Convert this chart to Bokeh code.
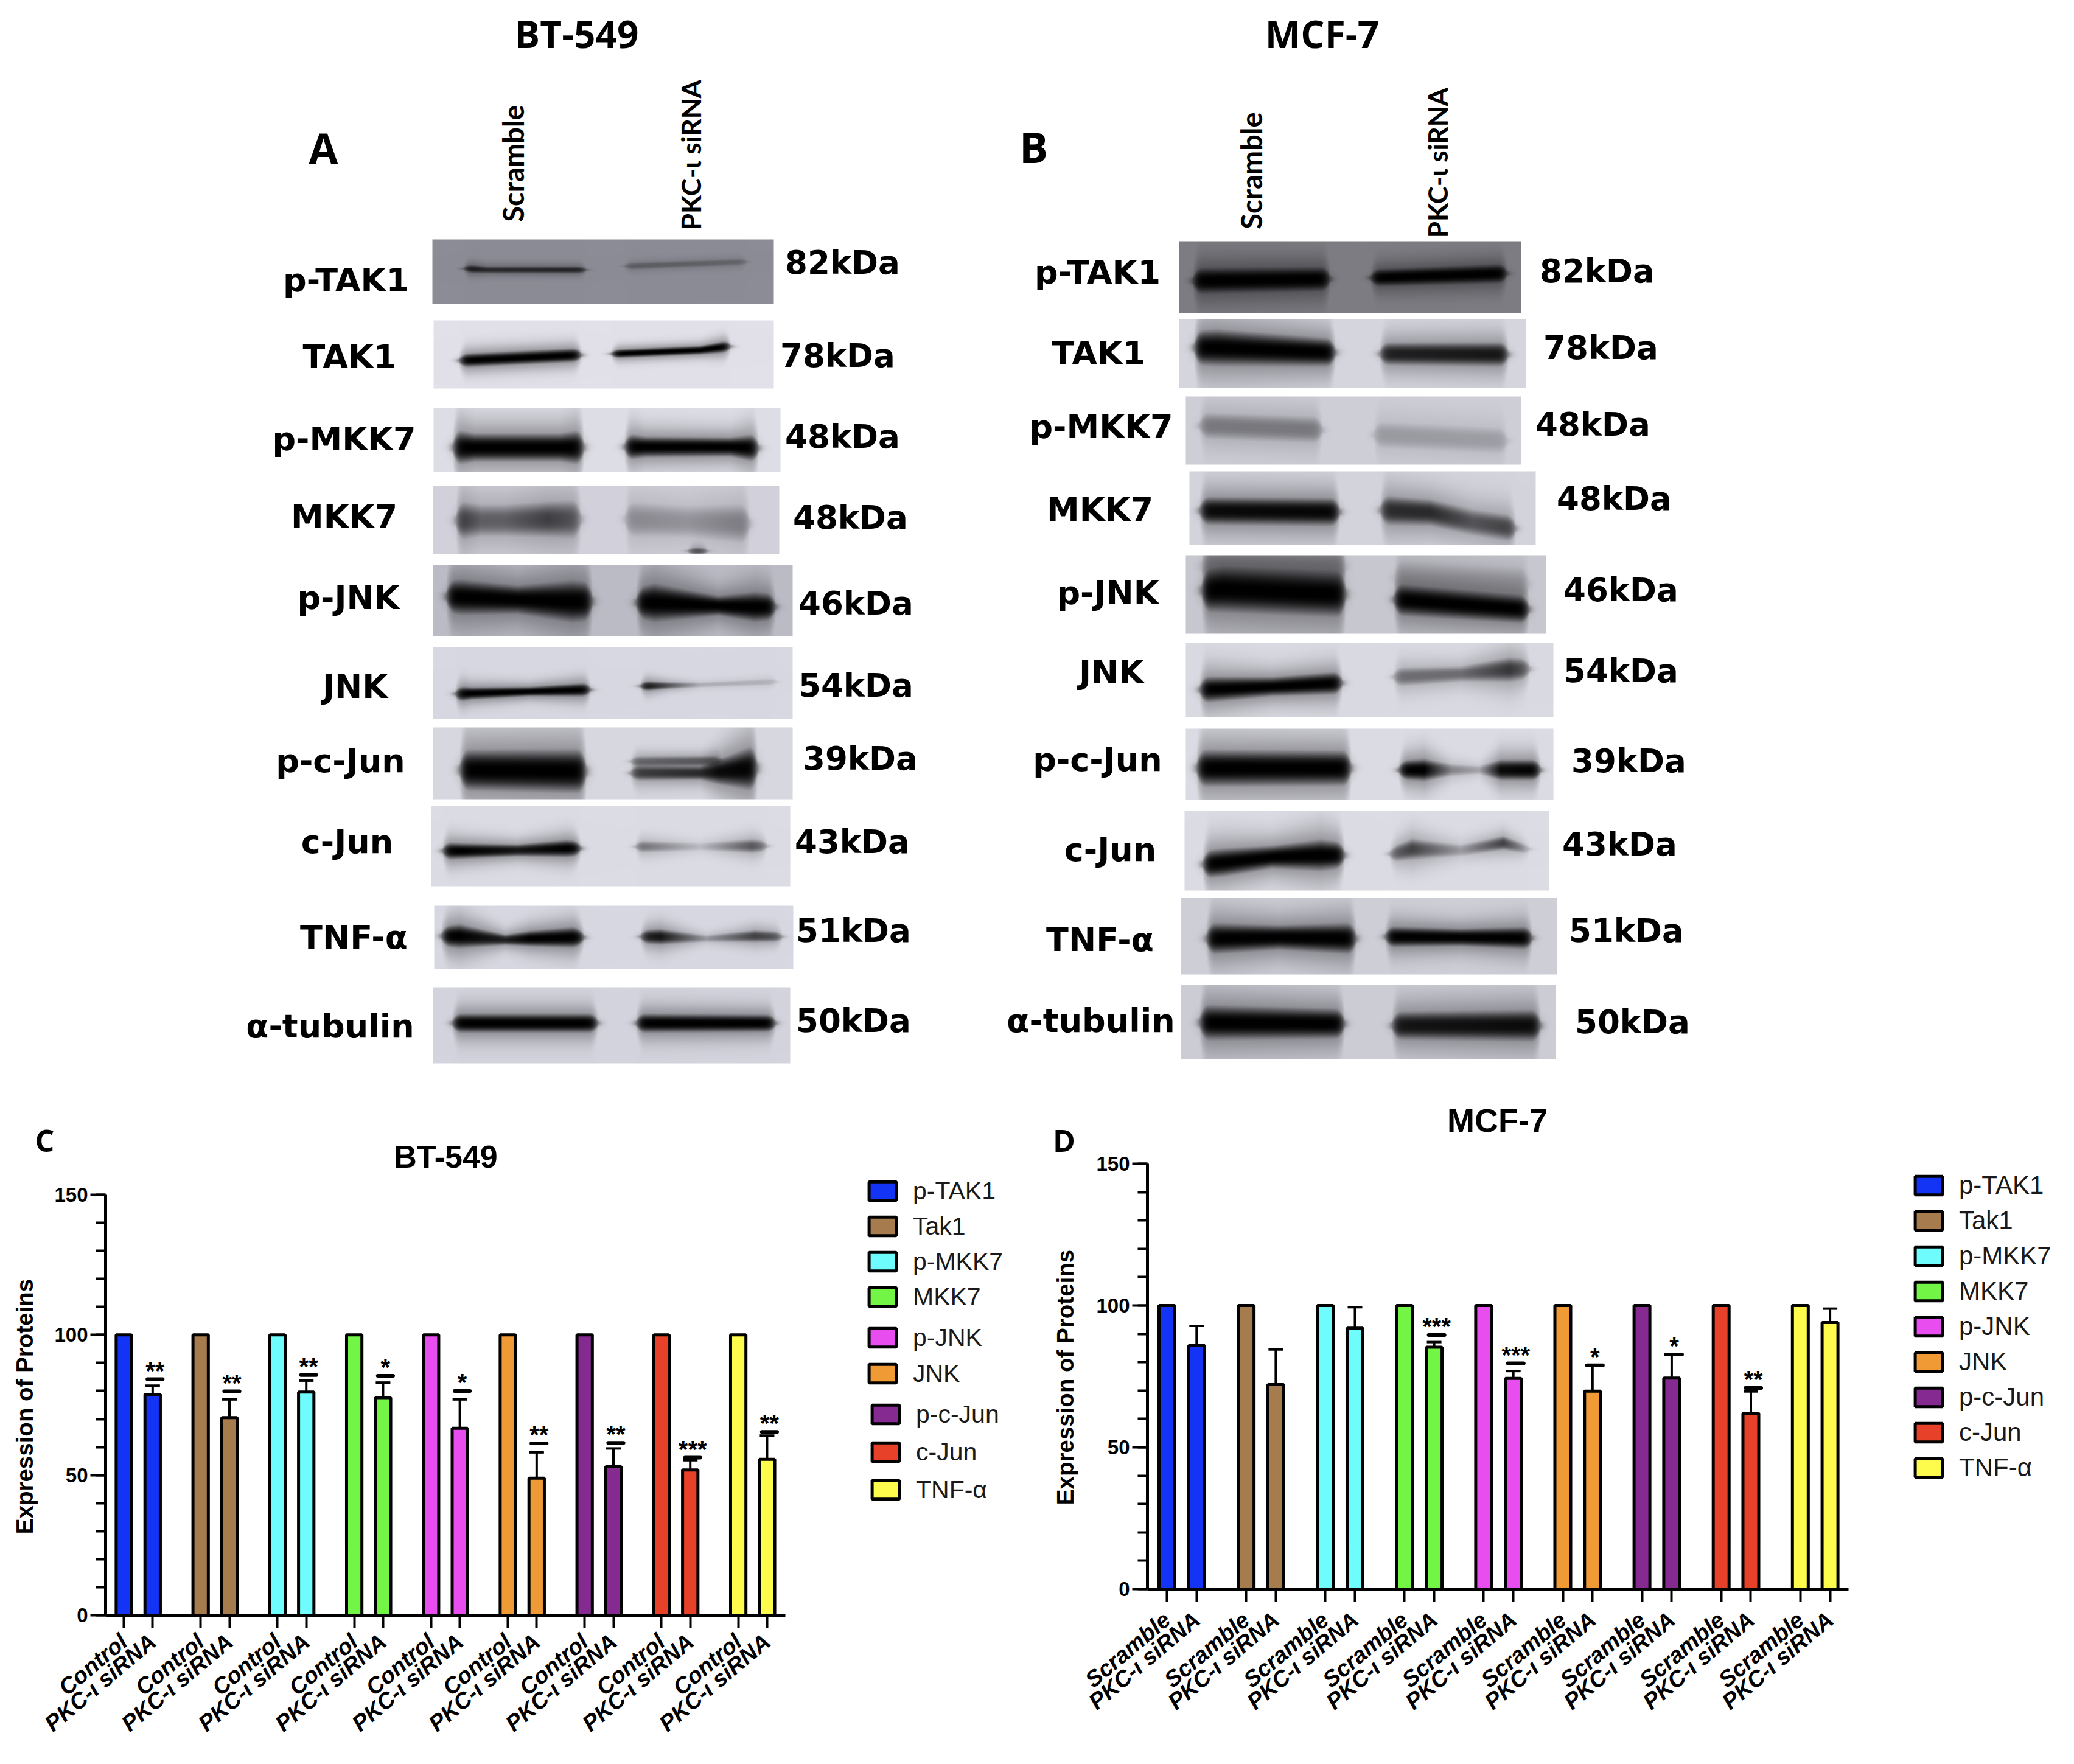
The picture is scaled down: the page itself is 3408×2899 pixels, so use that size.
import numpy as np
from bokeh.plotting import figure
from bokeh.layouts import column, row
from bokeh.embed import file_html
from bokeh.resources import INLINE
from bokeh.core.properties import value
from bokeh.models import (Range1d, FixedTicker, Legend, LegendItem, Whisker, TeeHead,
                          ColumnDataSource)

# ---------- bar chart data ----------
proteins = ["p-TAK1", "Tak1", "p-MKK7", "MKK7", "p-JNK", "JNK", "p-c-Jun", "c-Jun", "TNF-α"]
bar_colors = ["#1434f5", "#a67c4e", "#6ffcfc", "#72f545", "#e84df0", "#f09a36", "#852a90", "#e8412a", "#fdfb4b"]

c_ctrl = [100, 100, 100, 100, 100, 100, 100, 100, 100]
c_sirna = [78.8, 70.5, 79.6, 77.6, 66.7, 48.9, 53.0, 51.8, 55.6]
c_err = [81.9, 77.0, 83.7, 83.0, 77.0, 58.1, 59.5, 55.3, 64.1]
c_sig = [84.2, 79.9, 85.7, 85.4, 80.0, 61.3, 61.5, 56.2, 65.4]
c_stars = ["**", "**", "**", "*", "*", "**", "**", "***", "**"]
c_ticks = ["Control", "PKC-ι siRNA"]

d_ctrl = [100, 100, 100, 100, 100, 100, 100, 100, 100]
d_sirna = [85.9, 72.1, 92.0, 85.3, 74.3, 69.8, 74.4, 62.0, 94.0]
d_err = [92.8, 84.5, 99.4, 87.1, 76.9, 78.9, 82.7, 69.7, 98.9]
d_sig = [None, None, None, 89.6, 79.6, 78.9, 82.7, 70.9, None]
d_stars = ["", "", "", "***", "***", "*", "*", "**", ""]
d_ticks = ["Scramble", "PKC-ι siRNA"]

# ---------- blot panel texts ----------
blot_labels = ["p-TAK1", "TAK1", "p-MKK7", "MKK7", "p-JNK", "JNK", "p-c-Jun", "c-Jun", "TNF-α", "α-tubulin"]
a_kda = ["82kDa", "78kDa", "48kDa", "48kDa", "46kDa", "54kDa", "39kDa", "43kDa", "51kDa", "50kDa"]
b_kda = ["82kDa", "78kDa", "48kDa", "48kDa", "46kDa", "54kDa", "39kDa", "43kDa", "51kDa", "50kDa"]

a_label_pos = [(568,460),(574,586),(565,721),(565,849),(572,982),(583,1128),(559,1250),(570,1383),(581,1540),(542,1686)]
a_kda_pos = [(1384,431),(1376,584),(1384,717),(1397,850),(1406,991),(1406,1126),(1413,1246),(1400,1383),(1402,1529),(1402,1677)]
b_label_pos = [(1803,447),(1805,580),(1809,701),(1807,837),(1820,974),(1826,1104),(1803,1248),(1824,1396),(1807,1544),(1792,1677)]
b_kda_pos = [(2624,445),(2630,571),(2617,697),(2652,819),(2663,969),(2663,1102),(2676,1250),(2661,1387),(2672,1529),(2682,1679)]

# ---------- blot appearance: box (x0,x1,y0,y1), background grey, bands as (x, y, half thickness, darkness) ----------
a_blots = [
 ((710,1271,393,499),(140,140,150),[[(767,441,5,.85),(800,443,4,.7),(958,443,4,.75)],[(1031,437,4,.35),(1222,430,4,.3)]]),
 ((712,1271,526,638),(226,225,233),[[(759,592,8,1),(950,583,8,1)],[(1009,581,5,1),(1150,575,5,1),(1195,569,7,1)]]),
 ((712,1282,670,775),(222,222,230),[[(749,735,20,1),(780,735,16,1),(920,735,16,1),(954,735,20,1)],[(1031,734,15,1),(1060,734,12,1),(1200,734,11,1),(1241,736,16,1)]]),
 ((711,1280,798,910),(211,210,220),[[(754,855,22,.75),(790,855,18,.55),(830,855,18,.55),(900,853,20,.7),(949,853,22,.6)],[(1032,853,20,.35),(1130,857,18,.3),(1226,860,22,.42)],[(1135,905,4,.6),(1157,905,4,.6)]]),
 ((711,1302,928,1045),(188,188,198),[[(738,980,19,1),(760,981,20,1),(850,985,16,1),(940,988,24,1),(968,988,22,1)],[(1050,990,18,1),(1075,990,22,1),(1180,995,11,1),(1240,997,17,1),(1269,997,15,1)]]),
 ((711,1302,1063,1181),(216,216,226),[[(753,1140,9,1),(775,1139,7,1),(870,1136,5.5,1),(965,1133,8,1)],[(1057,1127,6,.95),(1100,1126,4,.6),(1150,1125,3,.2),(1271,1120,4,.18)]]),
 ((711,1302,1195,1313),(216,216,224),[[(760,1265,23,1),(958,1267,25,1)],[(1041,1270,9,.7),(1150,1270,8,.8),(1180,1268,14,.95),(1239,1262,26,1)],[(1041,1251,6,.45),(1180,1250,6,.55)]]),
 ((708,1298,1324,1456),(220,220,228),[[(732,1398,10,1),(760,1398,9,1),(850,1397,7,.9),(930,1394,10,1),(949,1394,9,1)],[(1049,1391,7,.5),(1150,1391,5,.15),(1235,1390,8,.6),(1255,1390,7,.5)]]),
 ((713,1303,1488,1592),(216,216,226),[[(730,1538,12,1),(755,1538,14,1),(830,1544,6,.85),(870,1542,9,1),(940,1540,12,1),(954,1540,10,1)],[(1057,1539,8,.85),(1085,1539,9,.9),(1160,1542,4,.3),(1240,1538,7,.7),(1280,1539,6,.6)]]),
 ((711,1298,1622,1747),(212,212,222),[[(748,1681,11,1),(977,1681,11,1)],[(1050,1681,11,1),(1269,1681,10,1)]]),
]
b_blots = [
 ((1937,2499,396,514),(125,125,131),[[(1965,461,15,1),(2180,458,14,1)],[(2257,456,10,1),(2471,449,11,1)]]),
 ((1937,2507,524,637),(214,214,223),[[(1967,571,20,1),(2000,571,21,1),(2189,579,16,1)],[(2272,581,13,.85),(2473,582,14,.9)]]),
 ((1948,2499,651,763),(207,207,216),[[(1976,699,15,.42),(2167,706,15,.42)],[(2262,714,15,.26),(2471,724,15,.24)]]),
 ((1954,2523,774,895),(212,212,221),[[(1976,839,16,.95),(2196,841,16,.97)],[(2273,838,17,.8),(2350,842,15,.8),(2420,858,15,.6),(2485,868,15,.7)]]),
 ((1948,2540,912,1041),(200,200,208),[[(1979,930,22,.3),(2206,930,22,.3)],[(2295,950,20,.2),(2507,960,20,.2)],[(1979,970,24,1),(2010,968,26,1),(2206,976,26,1)],[(2295,985,18,1),(2507,1001,16,1)]]),
 ((1948,2552,1056,1178),(218,218,226),[[(1976,1133,15,1),(2090,1128,11,1),(2200,1122,13,1)],[(2295,1112,11,.5),(2400,1107,9,.5),(2480,1100,14,.75),(2508,1099,12,.6)]]),
 ((1948,2552,1197,1314),(220,220,228),[[(1971,1262,21,1),(2215,1262,20,1)],[(2303,1265,11,1),(2340,1265,13,1),(2385,1265,7,.4),(2430,1265,5,.25),(2465,1265,12,.95),(2526,1265,12,1)]]),
 ((1946,2545,1332,1463),(220,220,228),[[(1981,1420,16,1),(2010,1417,16,1),(2090,1408,13,1),(2170,1405,18,1),(2204,1405,15,1)],[(2288,1403,9,.55),(2320,1395,12,.7),(2400,1397,7,.3),(2470,1385,8,.7),(2508,1395,6,.3)]]),
 ((1940,2558,1475,1601),(207,207,216),[[(1987,1542,18,1),(2100,1540,14,1),(2223,1542,18,1)],[(2281,1539,12,1),(2400,1540,10,1),(2512,1541,13,1)]]),
 ((1940,2556,1618,1740),(205,205,214),[[(1976,1680,20,1),(2204,1682,17,1)],[(2292,1685,16,.9),(2526,1685,18,.95)]]),
]

# page geometry: figures are laid out from the picture's own origin
PX0, PX1, PY0, PY_SPLIT, PY_END = 0, 3400, 0, 1780, 2891
LINE = "#000000"


def blot_image(box, bg, bands):
    x0, x1, y0, y1 = box
    xs = np.arange(x0, x1) + .5
    ys = np.arange(y0, y1) + .5
    T = np.ones((len(ys), len(xs)))
    for b in bands:
        p = np.array(b, dtype=float)
        yc = np.interp(xs, p[:, 0], p[:, 1])
        th = np.interp(xs, p[:, 0], p[:, 2]) * 1.4
        d = np.interp(xs, p[:, 0], p[:, 3])
        edge = np.clip(np.minimum(xs - p[0, 0] + 6, p[-1, 0] + 6 - xs), 0, None) / 16
        th = th * np.sqrt(np.clip(1 - (1 - np.clip(edge, 0, 1)) ** 2, .1, 1))
        env = 1 / (1 + np.exp(-(xs - p[0, 0] + 4) / 4)) / (1 + np.exp((xs - p[-1, 0] - 4) / 4))
        u = np.abs(ys[:, None] - yc[None, :]) / th[None, :]
        core = np.exp(-u ** 2.6)
        halo = np.exp(-(u / 1.9) ** 2) * .4
        T *= 1 - np.clip(d * env * np.maximum(core, halo), 0, 1)
    T = T[::-1]
    r, g, b_ = [np.uint32(np.clip(c * T, 0, 255)) for c in bg]
    rgba = (255 << 24) | (b_ << 16) | (g << 8) | r
    return rgba.astype(np.uint32)


def strip(x0, x1, y_top, y_bot):
    s = figure(width=x1 - x0, height=y_bot - y_top, output_backend="svg", toolbar_location=None,
               x_range=Range1d(x0, x1), y_range=Range1d(-y_bot, -y_top), frame_align=False,
               x_axis_location=None, y_axis_location=None, min_border=0, outline_line_color=None)
    s.grid.visible = False
    return s


top = strip(PX0, PX1, PY0, PY_SPLIT)

for box, bg, bands in a_blots + b_blots:
    x0, x1, y0, y1 = box
    top.image_rgba(image=[blot_image(box, bg, bands)], x=x0, y=-y1, dw=x1 - x0, dh=y1 - y0)


def put_text(fig, texts, pos, size, font, angle=0.0):
    fig.text(x=[q[0] for q in pos], y=[-q[1] for q in pos], text=texts, text_font=value(font),
             text_font_size=size, text_font_style="bold", text_color=LINE,
             text_align="center", text_baseline="middle", angle=angle)


put_text(top, blot_labels, a_label_pos, "54px", "DejaVu Sans")
put_text(top, a_kda, a_kda_pos, "53px", "DejaVu Sans")
put_text(top, blot_labels, b_label_pos, "54px", "DejaVu Sans")
put_text(top, b_kda, b_kda_pos, "53px", "DejaVu Sans")
put_text(top, ["BT-549", "MCF-7"], [(947, 54), (2172, 54)], "62px", "Open Sans")
put_text(top, ["A", "B"], [(531, 242), (1698, 240)], "70px", "Open Sans")
put_text(top, ["Scramble", "Scramble"], [(842, 268), (2055, 280)], "47px", "Lato", np.pi / 2)
put_text(top, ["PKC-ι siRNA", "PKC-ι siRNA"], [(1134, 254), (2361, 267)], "44px", "Lato", np.pi / 2)


def bar_panel(fig_x0, fig_x1, strip_x1, ax_x, frame_top, y0_px, y150_px, first_tick_px, pitch_px, ax_end_px,
              ctrl, sirna, err, sig, stars, tick_names, title, title_pos, title_size,
              letter, letter_pos, letter_in_side, ylabel_pos, legend_groups, legend_x, legend_font, tick_standoff):
    unit = pitch_px / 8
    yunit = (y0_px - y150_px) / 150

    if letter_in_side:
        # the side strip runs the full height, so the letter has room beside the axis
        side = strip(fig_x0, strip_x1, PY_SPLIT, PY_END)
        put_text(side, [letter], [letter_pos], "50px", "Open Sans")
        head = strip(strip_x1, fig_x1, PY_SPLIT, frame_top)
    else:
        side = strip(fig_x0, strip_x1, frame_top, PY_END)
        head = strip(fig_x0, fig_x1, PY_SPLIT, frame_top)
        put_text(head, [letter], [letter_pos], "50px", "Open Sans")
    put_text(head, [title], [title_pos], title_size, "Liberation Sans")
    put_text(side, ["Expression of Proteins"], [ylabel_pos], "38.5px", "Liberation Sans", np.pi / 2)

    p = figure(width=fig_x1 - strip_x1, height=PY_END - frame_top, output_backend="svg",
               toolbar_location=None, frame_align=False,
               x_range=Range1d((ax_x - first_tick_px) / unit, (fig_x1 - first_tick_px) / unit),
               y_range=Range1d(0, (y0_px - frame_top) / yunit),
               min_border_left=ax_x - strip_x1, min_border_right=0, min_border_top=0,
               min_border_bottom=PY_END - y0_px, outline_line_color=None)
    p.grid.visible = False

    rend = []
    xc = []
    xs = []
    for i, col in enumerate(bar_colors):
        a, b = i * 8, i * 8 + 3
        xc.append(a)
        xs.append(b)
        r = p.vbar(x=[a, b], top=[ctrl[i], sirna[i]], bottom=0, width=1.6, fill_color=col,
                   line_color=LINE, line_width=5)
        rend.append(r)

    src = ColumnDataSource(dict(x=xs, low=sirna, up=err))
    p.add_layout(Whisker(base="x", lower="low", upper="up", source=src, lower_head=None,
                         upper_head=TeeHead(size=24, line_width=4, line_color=LINE),
                         line_width=4, line_color=LINE))

    sx = [x for x, s in zip(xs, sig) if s is not None]
    sy = [s for s in sig if s is not None]
    st = [t for t in stars if t]
    p.segment(x0=[x - .55 for x in sx], x1=[x + 1.05 for x in sx], y0=sy, y1=sy,
              line_color=LINE, line_width=6, line_cap="round")
    p.text(x=[x + .25 for x in sx], y=[s + 3.0 for s in sy], text=st, text_font=value("Liberation Sans"),
           text_font_size="40px", text_font_style="bold", text_color=LINE,
           text_align="center", text_baseline="middle")

    ticks = sorted(xc + xs)
    xa = p.xaxis[0]
    xa.ticker = FixedTicker(ticks=ticks)
    xa.major_label_overrides = {t: tick_names[0] if t % 8 == 0 else tick_names[1] for t in ticks}
    xa.major_label_orientation = 0.70
    xa.major_label_text_font = "Liberation Sans"
    xa.major_label_text_font_style = "bold italic"
    xa.major_label_text_font_size = "37.5px"
    xa.major_label_text_color = LINE
    xa.major_label_standoff = tick_standoff
    xa.axis_line_width = 5
    xa.axis_line_color = LINE
    xa.major_tick_line_width = 4
    xa.major_tick_line_color = LINE
    xa.major_tick_out = 21
    xa.major_tick_in = 0
    xa.minor_tick_out = 0
    xa.minor_tick_in = 0
    xa.bounds = ((ax_x - first_tick_px) / unit, (ax_end_px - first_tick_px) / unit)

    ya = p.yaxis[0]
    ya.ticker = FixedTicker(ticks=[0, 50, 100, 150], minor_ticks=list(range(0, 151, 10)))
    ya.bounds = (0, 150)
    ya.axis_line_width = 5
    ya.axis_line_color = LINE
    ya.major_tick_line_width = 4
    ya.minor_tick_line_width = 4
    ya.major_tick_line_color = LINE
    ya.minor_tick_line_color = LINE
    ya.major_tick_out = 25
    ya.major_tick_in = 0
    ya.minor_tick_out = 16
    ya.minor_tick_in = 0
    ya.major_label_text_font = "Liberation Sans"
    ya.major_label_text_font_style = "bold"
    ya.major_label_text_font_size = "33px"
    ya.major_label_text_color = LINE
    ya.major_label_standoff = 4

    # legends: each group has its own vertical rhythm
    for idxs, top_center, pitch, dx in legend_groups:
        rows = 48
        items = [LegendItem(label=proteins[i], renderers=[rend[i]], index=0) for i in idxs]
        n = len(idxs)
        bottom_center = top_center + pitch * (n - 1)
        leg_y = y0_px - (bottom_center + rows / 2)
        leg = Legend(items=items, location=(legend_x + dx - ax_x, leg_y), orientation="vertical",
                     margin=0, padding=0, spacing=int(pitch - rows), border_line_color=None,
                     background_fill_alpha=0, glyph_width=56, glyph_height=38, label_height=rows,
                     label_width=10, label_standoff=22, label_text_font="Liberation Sans",
                     label_text_font_size=legend_font, label_text_color="#1a1a1a")
        p.add_layout(leg)
    if letter_in_side:
        return row(side, column(head, p, spacing=0), spacing=0)
    return column(head, row(side, p, spacing=0), spacing=0)


pC = bar_panel(PX0, 1700, 62, 173, 1932, 2654, 1963, 203, 126.2, 1290,
               c_ctrl, c_sirna, c_err, c_sig, c_stars, c_ticks,
               "BT-549", (732, 1900), "52px", "C", (73, 1873), False, (40, 2311),
               [([0, 1, 2, 3], 1957, 58, 0), ([4, 5], 2198, 59, 0), ([6, 7, 8], 2324, 62, 5)], 1422, "41px", 17)
pD = bar_panel(1700, PX1, 1772, 1885, 1892, 2611, 1912, 1917, 130.1, 3037,
               d_ctrl, d_sirna, d_err, d_sig, d_stars, d_ticks,
               "MCF-7", (2460, 1840), "54px", "D", (1748, 1873), True, (1750, 2263),
               [(list(range(9)), 1942, 58.75, 0)], 3141, "42px", 24)

page = column(top, row(pC, pD, spacing=0), spacing=0)
open("out.html", "w").write(file_html(page, INLINE))
